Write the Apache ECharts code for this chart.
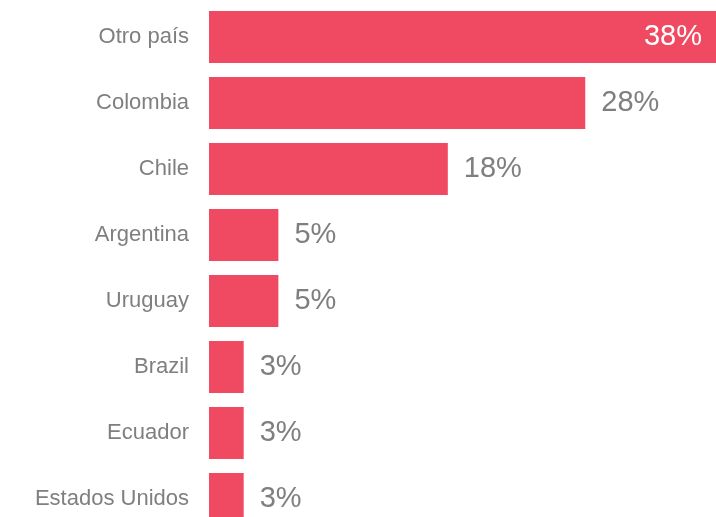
<!DOCTYPE html>
<html>
<head>
<meta charset="utf-8">
<script src="https://cdn.jsdelivr.net/npm/echarts@6/dist/echarts.min.js"></script>
<style>
html, body { margin: 0; padding: 0; background: #fff; }
#first { width: 716px; height: 517px; }
</style>
</head>
<body>
<div id="first"></div>
<script>
var categories = ['Otro país', 'Colombia', 'Chile', 'Argentina', 'Uruguay', 'Brazil', 'Ecuador', 'Estados Unidos'];
var values = [38, 28.2, 17.9, 5.2, 5.2, 2.6, 2.6, 2.6];

var barData = values.map(function(v, i) {
	var item = { value: v };
	if (i === 0) {
		// the biggest bar carries its label inside, in white
		item.label = { position: 'insideRight', distance: 14, color: '#ffffff' };
	}
	return item;
});

var option = {
	animation: false,
	grid: {
		left: 209,
		right: 0,
		top: 4,
		height: 528,
		outerBoundsMode: 'none'
	},
	xAxis: {
		type: 'value',
		min: 0,
		max: 38,
		show: false
	},
	yAxis: {
		type: 'category',
		inverse: true,
		data: categories,
		axisLine: { show: false },
		axisTick: { show: false },
		axisLabel: {
			margin: 20,
			color: '#7f7f7f',
			fontSize: 22,
			fontFamily: 'Liberation Sans, Arial, sans-serif'
		}
	},
	series: [{
		type: 'bar',
		silent: true,
		barWidth: 52,
		data: barData,
		itemStyle: { color: '#f04a63' },
		label: {
			show: true,
			position: 'right',
			distance: 16,
			color: '#7f7f7f',
			fontSize: 29,
			fontFamily: 'Liberation Sans, Arial, sans-serif',
			formatter: function(p) {
				return Math.round(p.value) + '%';
			}
		}
	}]
};
var my = echarts.init(document.getElementById('first'));
my.setOption(option);
</script>
</body>
</html>
